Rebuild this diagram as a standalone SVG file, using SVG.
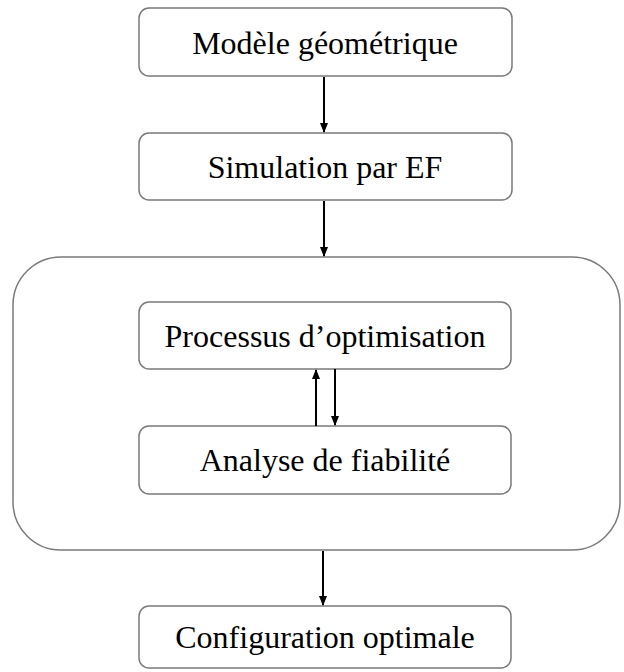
<svg xmlns="http://www.w3.org/2000/svg" width="624" height="672" viewBox="0 0 624 672">
<style>
.box{fill:#fff;stroke:#7a7a7a;stroke-width:1.5}
.t{font-family:"Liberation Serif","Times New Roman",serif;font-size:32px;fill:#000;text-anchor:middle}
.c{stroke:#000;stroke-width:2;fill:none}
</style>
<defs>
<marker id="ah" markerWidth="10" markerHeight="10" refX="9" refY="5" orient="auto" markerUnits="userSpaceOnUse">
<path d="M0,1 L10,5 L0,9 z" fill="#000"/>
</marker>
</defs>
<rect width="624" height="672" fill="#fff"/>
<g id="container"><rect class="box" x="13" y="257" width="607" height="293" rx="48"/></g>
<g id="n1"><rect class="box" x="139" y="8" width="373" height="68" rx="10"/><text class="t" x="325" y="54">Modèle géométrique</text></g>
<g id="n2"><rect class="box" x="139" y="133" width="373" height="67" rx="10"/><text class="t" x="325" y="178">Simulation par EF</text></g>
<g id="n3"><rect class="box" x="139" y="302" width="372" height="67" rx="10"/><text class="t" x="325" y="347">Processus d’optimisation</text></g>
<g id="n4"><rect class="box" x="139" y="426" width="372" height="68" rx="10"/><text class="t" x="325" y="471">Analyse de fiabilité</text></g>
<g id="n5"><rect class="box" x="139" y="606" width="372" height="62" rx="10"/><text class="t" x="325" y="648">Configuration optimale</text></g>
<g id="connectors">
<line class="c" x1="324" y1="77" x2="324" y2="132" marker-end="url(#ah)"/>
<line class="c" x1="324" y1="201" x2="324" y2="256" marker-end="url(#ah)"/>
<line class="c" x1="316" y1="426" x2="316" y2="370" marker-end="url(#ah)"/>
<line class="c" x1="335" y1="369" x2="335" y2="425" marker-end="url(#ah)"/>
<line class="c" x1="323" y1="551" x2="323" y2="605" marker-end="url(#ah)"/>
</g>
</svg>
